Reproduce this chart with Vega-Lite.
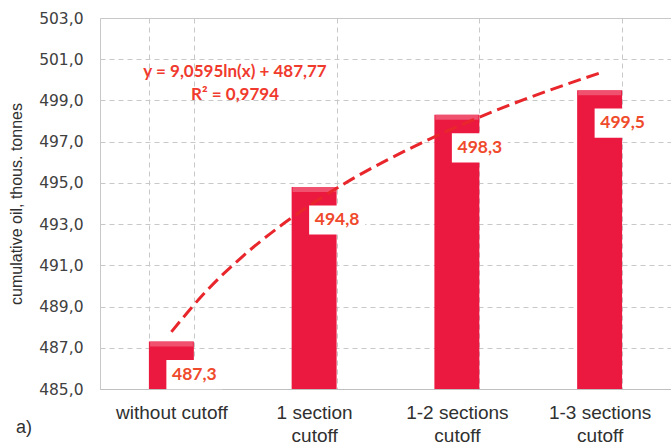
{
  "$schema": "https://vega.github.io/schema/vega-lite/v6.json",
  "autosize": {"type": "none"},
  "padding": {"left": 100, "top": 18, "right": 0, "bottom": 56},
  "width": 571,
  "height": 371,
  "background": "white",
  "config": {
    "view": {"stroke": "#c8c8c8", "strokeWidth": 1},
    "font": "Liberation Sans"
  },
  "datasets": {
    "oil": [
      {"scenario": "without cutoff", "value": 487.3},
      {"scenario": "1 section cutoff", "value": 494.8},
      {"scenario": "1-2 sections cutoff", "value": 498.3},
      {"scenario": "1-3 sections cutoff", "value": 499.5}
    ],
    "trend": [
      {"x": 1.0, "y": 487.77},
      {"x": 1.25, "y": 489.79},
      {"x": 1.5, "y": 491.44},
      {"x": 1.75, "y": 492.84},
      {"x": 2.0, "y": 494.05},
      {"x": 2.25, "y": 495.12},
      {"x": 2.5, "y": 496.07},
      {"x": 2.75, "y": 496.93},
      {"x": 3.0, "y": 497.72},
      {"x": 3.25, "y": 498.45},
      {"x": 3.5, "y": 499.12},
      {"x": 3.75, "y": 499.74},
      {"x": 4.0, "y": 500.33}
    ]
  },
  "layer": [
    {
      "data": {"name": "oil"},
      "encoding": {
        "x": {
          "field": "scenario",
          "type": "nominal",
          "sort": null,
          "scale": {"paddingInner": 0.685, "paddingOuter": 0.3425},
          "axis": {
            "title": null,
            "labelAngle": 0,
            "tickBand": "extent",
            "ticks": false,
            "grid": true,
            "gridDash": [5, 4],
            "gridColor": "#c8c8c8",
            "domainColor": "#bfbfbf",
            "labelFont": "Liberation Sans",
            "labelFontSize": 19,
            "labelColor": "#303030",
            "labelPadding": 14,
            "labelLineHeight": 23,
            "labelExpr": "!isString(datum.value) ? '' : (datum.value == 'without cutoff' ? datum.value : [replace(datum.value, ' cutoff', ''), 'cutoff'])"
          }
        },
        "y": {
          "field": "value",
          "type": "quantitative",
          "scale": {"domain": [485, 503], "nice": false, "zero": false},
          "axis": {
            "title": "cumulative oil, thous. tonnes",
            "titleFont": "Liberation Sans",
            "titleFontSize": 16,
            "titleFontWeight": "normal",
            "titleColor": "#303030",
            "titlePadding": 14,
            "values": [485, 487, 489, 491, 493, 495, 497, 499, 501, 503],
            "labelExpr": "replace(format(datum.value, '.1f'), '.', ',')",
            "labelFont": "DejaVu Sans",
            "labelFontSize": 15.5,
            "labelColor": "#404040",
            "labelPadding": 17,
            "ticks": false,
            "domain": false,
            "grid": true,
            "gridDash": [5, 4],
            "gridColor": "#c8c8c8"
          }
        }
      },
      "layer": [
        {"mark": {"type": "bar", "color": "#EB1940", "clip": true}},
        {
          "mark": {"type": "tick", "orient": "horizontal", "color": "#F26A82", "thickness": 5, "size": 43, "yOffset": 2.5}
        }
      ]
    },
    {
      "data": {"name": "trend"},
      "encoding": {
        "x": {"field": "x", "type": "quantitative", "scale": {"domain": [0.5, 4.5], "nice": false, "zero": false}, "axis": null},
        "y": {"field": "y", "type": "quantitative"}
      },
      "mark": {"type": "line", "color": "#E8262B", "strokeWidth": 3, "strokeDash": [13, 6], "interpolate": "monotone"}
    },
    {
      "data": {"name": "oil"},
      "transform": [
        {"calculate": "replace(format(datum.value, '.1f'), '.', ',')", "as": "label"}
      ],
      "encoding": {
        "x": {"field": "scenario", "type": "nominal", "sort": null, "scale": {"paddingInner": 0.685, "paddingOuter": 0.3425}, "axis": null},
        "y": {"field": "value", "type": "quantitative"}
      },
      "layer": [
        {
          "mark": {"type": "point", "shape": "M-1,-0.52H1V0.52H-1Z", "size": 3136, "filled": true, "fill": "white", "opacity": 1, "strokeWidth": 0, "xOffset": 23, "yOffset": 33}
        },
        {
          "mark": {"type": "text", "font": "Lato", "fontWeight": "bold", "fontSize": 17.5, "color": "#EF4A2C", "align": "center", "baseline": "middle", "xOffset": 23, "yOffset": 33},
          "encoding": {"text": {"field": "label"}}
        }
      ]
    },
    {
      "data": {"values": [{}]},
      "encoding": {
        "x": {"datum": 1.446, "type": "quantitative", "scale": {"domain": [0.5, 4.5], "nice": false, "zero": false}, "axis": null}
      },
      "layer": [
        {
          "mark": {"type": "text", "text": "y = 9,0595ln(x) + 487,77", "font": "Lato", "fontWeight": "bold", "fontSize": 17, "color": "#F03A2E", "align": "center", "baseline": "middle"},
          "encoding": {"y": {"datum": 500.39, "type": "quantitative"}}
        },
        {
          "mark": {"type": "text", "text": "R² = 0,9794", "font": "Lato", "fontWeight": "bold", "fontSize": 17, "color": "#F03A2E", "align": "center", "baseline": "middle"},
          "encoding": {"y": {"datum": 499.27, "type": "quantitative"}}
        },
        {
          "mark": {"type": "text", "text": "a)", "font": "Liberation Sans", "fontSize": 18, "color": "#303030", "align": "left", "baseline": "middle", "dx": -84, "dy": 39},
          "encoding": {
            "x": {"datum": 0.5, "type": "quantitative"},
            "y": {"datum": 485, "type": "quantitative"}
          }
        }
      ]
    }
  ],
  "resolve": {"scale": {"x": "independent"}, "axis": {"x": "independent"}}
}
